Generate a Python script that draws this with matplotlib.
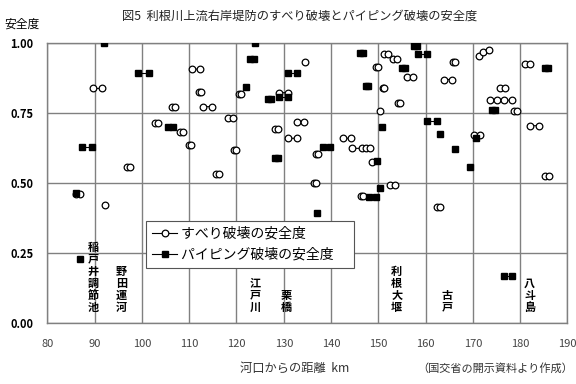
import numpy as np
import matplotlib
matplotlib.use("Agg")
import matplotlib.pyplot as plt

plt.rcParams['font.family'] = ['Noto Sans CJK JP', 'DejaVu Sans']

nan = np.nan

# ===== DATA (km from river mouth, safety factor; nan breaks the line) =====
slip_km = [86.0, 87.0, nan, 89.7, 91.5, nan, 92.2, nan, 96.9, 97.4, nan,
           102.8, 103.4, nan, 106.4, 107.0, nan, 108.1, 108.6, nan, 109.9, 110.4, nan,
           110.5, 112.2, nan, 112.0, 112.5, nan, 113.0, 114.8, nan, 115.7, 116.2, nan,
           118.2, 119.3, nan, 119.4, 119.9, nan, 120.5, 121.0, nan, 128.2, 128.7, nan,
           129.0, 130.9, nan, 131.0, 132.8, nan, 132.8, 134.2, nan, 134.4, nan,
           136.3, 136.8, nan, 136.8, 137.2, nan, 142.6, 144.2, nan,
           144.4, 146.5, 147.4, 148.3, nan, 146.3, 146.8, nan, 148.6, nan,
           149.5, 150.0, nan, 150.4, nan, 150.9, 151.3, nan, 151.2, 152.0, nan,
           153.2, 154.0, nan, 152.5, 153.6, nan, 154.1, 154.5, nan, 156.0, 157.4, nan,
           162.5, 163.0, nan, 163.8, 165.5, nan, 165.7, 166.2, nan, 170.3, 171.5, nan,
           171.3, 172.2, 173.4, nan, 175.8, 176.8, nan, 173.6, 175.1, 176.5, 178.2, nan,
           178.6, 179.3, nan, 181.1, 182.1, nan, 182.1, 183.9, nan, 185.3, 186.0]
slip_sf = [0.462, 0.462, nan, 0.839, 0.839, nan, 0.422, nan, 0.557, 0.557, nan,
           0.714, 0.714, nan, 0.774, 0.774, nan, 0.684, 0.684, nan, 0.637, 0.637, nan,
           0.908, 0.908, nan, 0.827, 0.827, nan, 0.774, 0.774, nan, 0.533, 0.533, nan,
           0.732, 0.732, nan, 0.619, 0.619, nan, 0.821, 0.821, nan, 0.693, 0.693, nan,
           0.824, 0.824, nan, 0.661, 0.661, nan, 0.720, 0.720, nan, 0.934, nan,
           0.502, 0.502, nan, 0.605, 0.605, nan, 0.661, 0.661, nan,
           0.625, 0.625, 0.625, 0.625, nan, 0.455, 0.455, nan, 0.577, nan,
           0.917, 0.917, nan, 0.759, nan, 0.839, 0.839, nan, 0.962, 0.962, nan,
           0.943, 0.943, nan, 0.494, 0.494, nan, 0.786, 0.786, nan, 0.881, 0.881, nan,
           0.414, 0.414, nan, 0.871, 0.871, nan, 0.934, 0.934, nan, 0.672, 0.672, nan,
           0.955, 0.968, 0.975, nan, 0.839, 0.839, nan, 0.797, 0.797, 0.797, 0.797, nan,
           0.758, 0.758, nan, 0.925, 0.925, nan, 0.706, 0.706, nan, 0.526, 0.526]

pipe_km = [86.0, nan, 86.9, nan, 87.3, 89.4, nan, 91.9, nan, 99.25, 101.4, nan,
           105.6, 106.6, nan, 122.0, nan, 122.9, 123.6, nan, 123.9, nan,
           126.7, 127.3, nan, 128.2, 128.8, nan, 129.0, 130.9, nan, 130.8, 132.8, nan,
           137.0, nan, 138.3, 139.7, nan, 146.2, 146.8, nan, 147.3, 147.9, nan,
           148.0, 149.5, nan, 149.7, nan, 150.4, nan, 150.7, nan, 155.0, 155.6, nan,
           157.5, 158.1, nan, 158.4, 160.3, nan, 160.3, 162.4, nan, 163.1, nan,
           166.2, nan, 169.4, nan, 170.7, nan, 174.1, 174.7, nan, 176.5, 178.2, nan,
           185.3, 185.9]
pipe_sf = [0.465, nan, 0.229, nan, 0.631, 0.631, nan, 1.00, nan, 0.893, 0.893, nan,
           0.700, 0.700, nan, 0.843, nan, 0.943, 0.943, nan, 1.00, nan,
           0.801, 0.801, nan, 0.589, 0.589, nan, 0.809, 0.809, nan, 0.893, 0.893, nan,
           0.395, nan, 0.631, 0.631, nan, 0.964, 0.964, nan, 0.849, 0.849, nan,
           0.452, 0.452, nan, 0.581, nan, 0.482, nan, 0.702, nan, 0.913, 0.913, nan,
           0.991, 0.991, nan, 0.962, 0.962, nan, 0.724, 0.724, nan, 0.676, nan,
           0.621, nan, 0.557, nan, 0.661, nan, 0.762, 0.762, nan, 0.169, 0.169, nan,
           0.911, 0.911]

place_names = ["稲戸井調節池", "野田運河", "江戸川", "栗橋", "利根大堰", "古戸", "八斗島"]
place_km = [89.7, 95.7, 123.9, 130.5, 153.9, 164.5, 182.0]

x_ticks = [80, 90, 100, 110, 120, 130, 140, 150, 160, 170, 180, 190]
y_ticks = [0.00, 0.25, 0.50, 0.75, 1.00]

# ===== PLOT =====
fig = plt.figure(figsize=(5.76, 3.84), dpi=100)
ax = fig.add_axes([0.0822, 0.158, 0.903, 0.729])

ax.plot(slip_km, slip_sf, color='black', lw=0.8, marker='o', ms=4.8,
        mfc='white', mec='black', mew=0.9, label='すべり破壊の安全度　', zorder=3)
ax.plot(pipe_km, pipe_sf, color='black', lw=0.8, marker='s', ms=4.3,
        mfc='black', mec='black', label='パイピング破壊の安全度　', zorder=4)

ax.set_xlim(80, 190)
ax.set_ylim(0, 1)
ax.set_xticks(x_ticks)
ax.set_yticks(y_ticks)
ax.set_yticklabels([f"{v:.2f}" for v in y_ticks], fontweight='bold')
ax.tick_params(axis='both', length=0, labelsize=8)
ax.tick_params(axis='x', pad=11, labelcolor='#444444')
ax.tick_params(axis='y', pad=10)
ax.grid(True, color='#808080', lw=1.0)
ax.set_axisbelow(True)
for s in ax.spines.values():
    s.set_color('#808080')
    s.set_linewidth(1.0)

for name, km in zip(place_names, place_km):
    ax.text(km, 0.035, "\n".join(name), ha='center', va='bottom',
            fontsize=8, fontweight='bold', linespacing=0.9, zorder=5)

leg = ax.legend(loc='lower left', bbox_to_anchor=(0.19, 0.1975), fontsize=10,
                frameon=True, fancybox=False, edgecolor='#555555', framealpha=1,
                handlelength=1.8, handletextpad=0.25, borderpad=0.45, labelspacing=0.5,
                borderaxespad=0)
leg.get_frame().set_linewidth(0.8)
leg.set_zorder(6)

fig.text(0.52, 1 - 16.5 / 384, "図5  利根川上流右岸堤防のすべり破壊とパイピング破壊の安全度",
         ha='center', va='center', fontsize=8.8, color='#222222')
fig.text(4 / 576, 1 - 24 / 384, "安全度", ha='left', va='center', fontsize=8.5)
fig.text(295 / 576, 1 - 368 / 384, "河口からの距離  km", ha='center', va='center',
         fontsize=8.8, color='#333333')
fig.text(573 / 576, 1 - 368 / 384, "（国交省の開示資料より作成）", ha='right', va='center',
         fontsize=8, color='#333333')

fig.savefig("out.png", dpi=100)
